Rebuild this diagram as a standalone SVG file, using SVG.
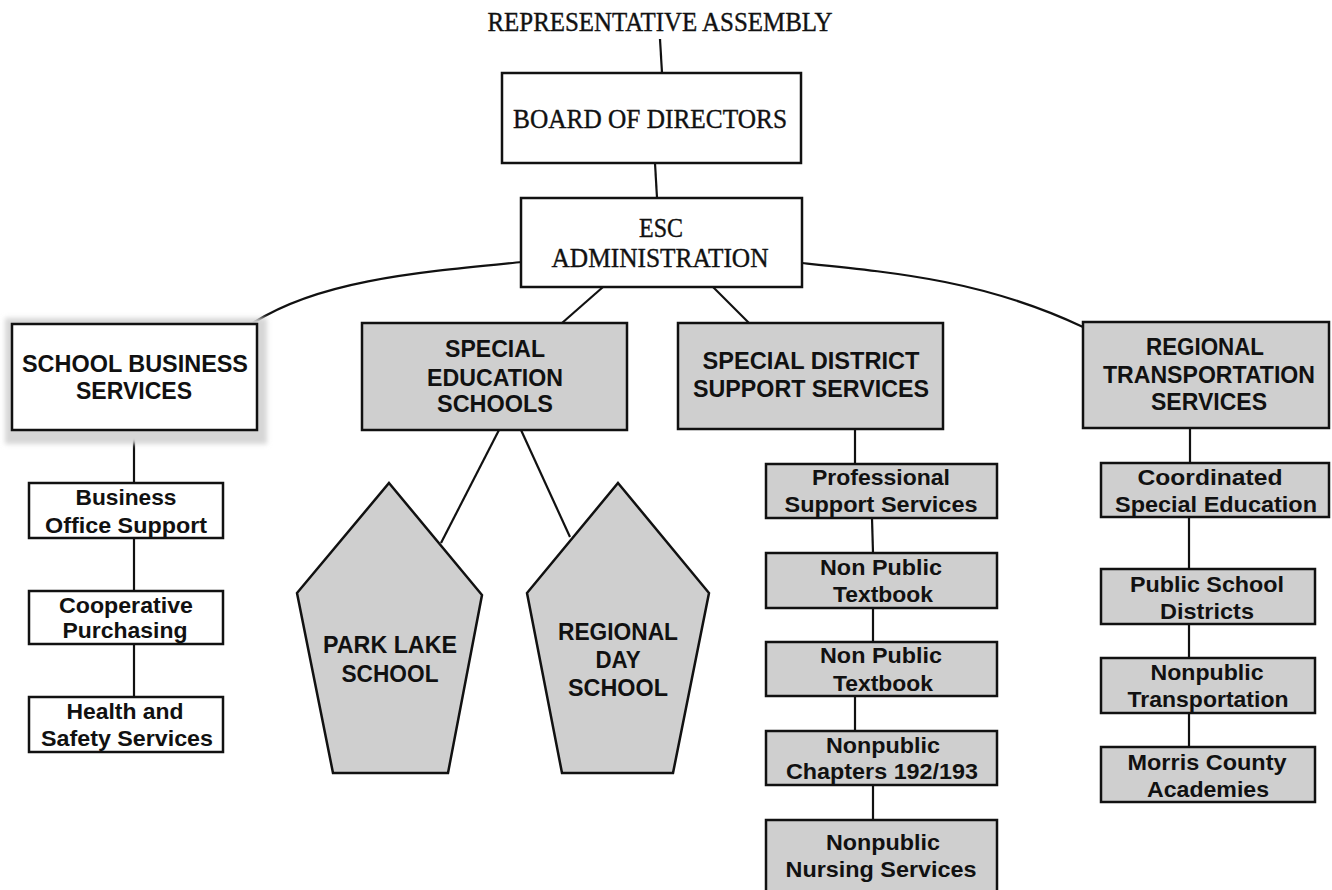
<svg xmlns="http://www.w3.org/2000/svg" width="1332" height="890" viewBox="0 0 1332 890">
<style>
.bg{fill:#ffffff}
.box{fill:#ffffff;stroke:#111;stroke-width:2.5}
.shade{fill:#cfcfcf;stroke:#111;stroke-width:2.5}
.serif{font-family:"Liberation Serif","Times New Roman",serif;font-size:28px;fill:#111;stroke:#111;stroke-width:0.4;text-anchor:middle}
.big{font-family:"Liberation Sans",Arial,sans-serif;font-weight:bold;font-size:24px;fill:#111;text-anchor:middle}
.sm{font-family:"Liberation Sans",Arial,sans-serif;font-weight:bold;font-size:22px;fill:#111;text-anchor:middle}
.conn line,.conn path{stroke:#111;stroke-width:2.2;fill:none}
</style>
<defs>
<filter id="blur" x="-10%" y="-10%" width="120%" height="120%"><feGaussianBlur stdDeviation="2.5"/></filter>
</defs>
<rect class="bg" x="0" y="0" width="1332" height="890"/>

<g class="conn" id="connectors">
<line x1="660" y1="39" x2="662" y2="73"/>
<line x1="655" y1="163" x2="657" y2="198"/>
<path d="M522,262 C420,272 320,280 253,323"/>
<path d="M802,263 C900,273 985,281 1083,327"/>
<line x1="603" y1="287" x2="562" y2="323"/>
<line x1="713" y1="287" x2="749" y2="323"/>
<line x1="134" y1="430" x2="134" y2="483"/>
<line x1="134" y1="538" x2="134" y2="591"/>
<line x1="134" y1="644" x2="134" y2="697"/>
<line x1="499" y1="430" x2="441" y2="543"/>
<line x1="521" y1="430" x2="570" y2="537"/>
<line x1="855" y1="429" x2="855" y2="464"/>
<line x1="872" y1="518" x2="873" y2="553"/>
<line x1="873" y1="608" x2="873" y2="642"/>
<line x1="855" y1="696" x2="855" y2="731"/>
<line x1="873" y1="785" x2="873" y2="820"/>
<line x1="1190" y1="428" x2="1190" y2="463"/>
<line x1="1189" y1="517" x2="1189" y2="569"/>
<line x1="1189" y1="624" x2="1189" y2="658"/>
<line x1="1189" y1="713" x2="1189" y2="747"/>
</g>

<g id="representative-assembly">
<text class="serif" x="660" y="31" textLength="345" lengthAdjust="spacingAndGlyphs">REPRESENTATIVE ASSEMBLY</text>
</g>

<g id="board-of-directors">
<rect class="box" x="502" y="73" width="299" height="90"/>
<text class="serif" x="650" y="128" textLength="274" lengthAdjust="spacingAndGlyphs">BOARD OF DIRECTORS</text>
</g>

<g id="esc-administration">
<rect class="box" x="521" y="198" width="281" height="89"/>
<text class="serif" x="661" y="237" textLength="44" lengthAdjust="spacingAndGlyphs">ESC</text>
<text class="serif" x="660" y="267" textLength="217" lengthAdjust="spacingAndGlyphs">ADMINISTRATION</text>
</g>

<g id="school-business-services">
<rect x="5" y="318" width="262" height="126" fill="#d6d6d6" filter="url(#blur)"/>
<rect class="box" x="12" y="324" width="245" height="106"/>
<text class="big" x="135" y="372" font-size="25" textLength="226" lengthAdjust="spacingAndGlyphs">SCHOOL BUSINESS</text>
<text class="big" x="134" y="399" font-size="25" textLength="116" lengthAdjust="spacingAndGlyphs">SERVICES</text>
</g>

<g id="special-education-schools">
<rect class="shade" x="362" y="323" width="265" height="107"/>
<text class="big" x="495" y="357" textLength="100" lengthAdjust="spacingAndGlyphs">SPECIAL</text>
<text class="big" x="495" y="386" textLength="136" lengthAdjust="spacingAndGlyphs">EDUCATION</text>
<text class="big" x="495" y="412" textLength="116" lengthAdjust="spacingAndGlyphs">SCHOOLS</text>
</g>

<g id="special-district-support-services">
<rect class="shade" x="678" y="323" width="265" height="106"/>
<text class="big" x="811" y="369" font-size="25" textLength="217" lengthAdjust="spacingAndGlyphs">SPECIAL DISTRICT</text>
<text class="big" x="811" y="397" font-size="25" textLength="236" lengthAdjust="spacingAndGlyphs">SUPPORT SERVICES</text>
</g>

<g id="regional-transportation-services">
<rect class="shade" x="1083" y="322" width="246" height="106"/>
<text class="big" x="1205" y="355" font-size="25" textLength="118" lengthAdjust="spacingAndGlyphs">REGIONAL</text>
<text class="big" x="1209" y="383" font-size="25" textLength="212" lengthAdjust="spacingAndGlyphs">TRANSPORTATION</text>
<text class="big" x="1209" y="410" font-size="25" textLength="116" lengthAdjust="spacingAndGlyphs">SERVICES</text>
</g>

<g id="park-lake-school">
<polygon class="shade" points="389,483 482,595 448,773 333,773 297,593"/>
<text class="big" x="390" y="653" textLength="134" lengthAdjust="spacingAndGlyphs">PARK LAKE</text>
<text class="big" x="390" y="682" textLength="97" lengthAdjust="spacingAndGlyphs">SCHOOL</text>
</g>

<g id="regional-day-school">
<polygon class="shade" points="618,483 709,593 673,773 562,773 527,593"/>
<text class="big" x="618" y="640" textLength="120" lengthAdjust="spacingAndGlyphs">REGIONAL</text>
<text class="big" x="618" y="668" textLength="45" lengthAdjust="spacingAndGlyphs">DAY</text>
<text class="big" x="618" y="696" textLength="100" lengthAdjust="spacingAndGlyphs">SCHOOL</text>
</g>

<g id="business-office-support">
<rect class="box" x="29" y="483" width="194" height="55"/>
<text class="sm" x="126" y="505" textLength="101" lengthAdjust="spacingAndGlyphs">Business</text>
<text class="sm" x="126" y="533" textLength="162" lengthAdjust="spacingAndGlyphs">Office Support</text>
</g>

<g id="cooperative-purchasing">
<rect class="box" x="29" y="591" width="194" height="53"/>
<text class="sm" x="126" y="613" textLength="134" lengthAdjust="spacingAndGlyphs">Cooperative</text>
<text class="sm" x="125" y="638" textLength="125" lengthAdjust="spacingAndGlyphs">Purchasing</text>
</g>

<g id="health-and-safety-services">
<rect class="box" x="29" y="697" width="194" height="55"/>
<text class="sm" x="125" y="719" textLength="117" lengthAdjust="spacingAndGlyphs">Health and</text>
<text class="sm" x="127" y="746" textLength="172" lengthAdjust="spacingAndGlyphs">Safety Services</text>
</g>

<g id="professional-support-services">
<rect class="shade" x="766" y="464" width="231" height="54"/>
<text class="sm" x="881" y="485" textLength="138" lengthAdjust="spacingAndGlyphs">Professional</text>
<text class="sm" x="881" y="512" textLength="193" lengthAdjust="spacingAndGlyphs">Support Services</text>
</g>

<g id="non-public-textbook-1">
<rect class="shade" x="766" y="553" width="231" height="55"/>
<text class="sm" x="881" y="575" textLength="122" lengthAdjust="spacingAndGlyphs">Non Public</text>
<text class="sm" x="883" y="602" textLength="100" lengthAdjust="spacingAndGlyphs">Textbook</text>
</g>

<g id="non-public-textbook-2">
<rect class="shade" x="766" y="642" width="231" height="54"/>
<text class="sm" x="881" y="663" textLength="122" lengthAdjust="spacingAndGlyphs">Non Public</text>
<text class="sm" x="883" y="691" textLength="100" lengthAdjust="spacingAndGlyphs">Textbook</text>
</g>

<g id="nonpublic-chapters">
<rect class="shade" x="766" y="731" width="231" height="54"/>
<text class="sm" x="883" y="753" textLength="114" lengthAdjust="spacingAndGlyphs">Nonpublic</text>
<text class="sm" x="882" y="779" textLength="192" lengthAdjust="spacingAndGlyphs">Chapters 192/193</text>
</g>

<g id="nonpublic-nursing-services">
<rect class="shade" x="766" y="820" width="231" height="80"/>
<text class="sm" x="883" y="850" textLength="114" lengthAdjust="spacingAndGlyphs">Nonpublic</text>
<text class="sm" x="881" y="877" textLength="191" lengthAdjust="spacingAndGlyphs">Nursing Services</text>
</g>

<g id="coordinated-special-education">
<rect class="shade" x="1101" y="463" width="228" height="54"/>
<text class="sm" x="1210" y="485" textLength="145" lengthAdjust="spacingAndGlyphs">Coordinated</text>
<text class="sm" x="1216" y="512" textLength="202" lengthAdjust="spacingAndGlyphs">Special Education</text>
</g>

<g id="public-school-districts">
<rect class="shade" x="1101" y="569" width="214" height="55"/>
<text class="sm" x="1207" y="592" textLength="154" lengthAdjust="spacingAndGlyphs">Public School</text>
<text class="sm" x="1207" y="619" textLength="94" lengthAdjust="spacingAndGlyphs">Districts</text>
</g>

<g id="nonpublic-transportation">
<rect class="shade" x="1101" y="658" width="214" height="55"/>
<text class="sm" x="1207" y="680" textLength="113" lengthAdjust="spacingAndGlyphs">Nonpublic</text>
<text class="sm" x="1208" y="707" textLength="161" lengthAdjust="spacingAndGlyphs">Transportation</text>
</g>

<g id="morris-county-academies">
<rect class="shade" x="1101" y="747" width="214" height="55"/>
<text class="sm" x="1207" y="770" textLength="159" lengthAdjust="spacingAndGlyphs">Morris County</text>
<text class="sm" x="1208" y="797" textLength="122" lengthAdjust="spacingAndGlyphs">Academies</text>
</g>
</svg>
